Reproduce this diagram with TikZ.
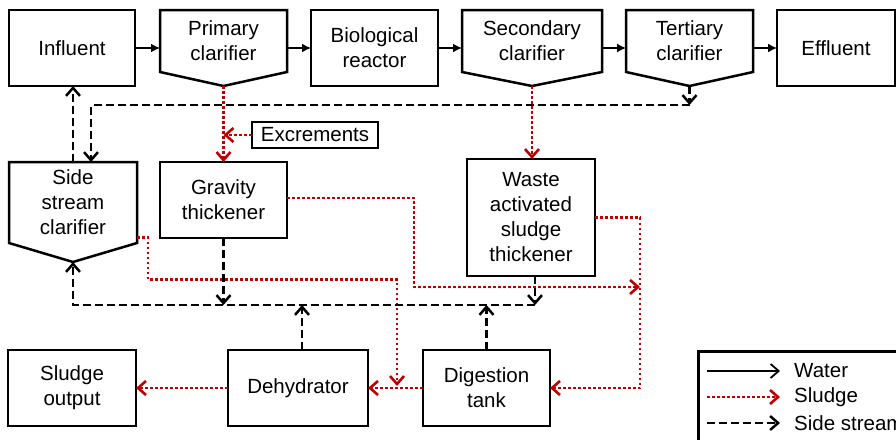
\documentclass[tikz,border=0pt]{standalone}
\usepackage{fontspec}
\setmainfont{Liberation Sans}
\usetikzlibrary{arrows.meta,positioning}
\definecolor{sludgered}{RGB}{192,0,0}

\begin{document}
\begin{tikzpicture}[x=1pt,y=-1pt]

\tikzset{
	unit/.style={
		draw=black,
		rectangle,
		line width=2.5pt,
		align=center,
		inner sep=2pt,
		outer sep=0pt,
		font=\fontsize{20.5}{25}\selectfont},
	clar/.style={
		unit,
		draw=none},
	water/.style={
		line width=1.6pt,
		-{Latex[length=9pt,width=9pt]}},
	sludge/.style={
		draw=sludgered,
		line width=2.6pt,
		dash pattern=on 2.6pt off 2.4pt,
		-{Straight Barb[length=8pt,width=14pt]}},
	side/.style={
		line width=2.5pt,
		dash pattern=on 8pt off 4pt,
		-{Straight Barb[length=8pt,width=14pt]}},
	legtext/.style={
		anchor=west,
		inner sep=2pt,
		font=\fontsize{20.5}{25}\selectfont}
}

\clip (0,0) rectangle (896,439);

% main water line
\node[unit,minimum width=126pt,minimum height=76pt] (inf) at (72,48) {Influent};
\node[clar,minimum width=127pt,minimum height=62pt,right=25pt of inf.north east,anchor=north west] (pc) {Primary\\clarifier};
\node[unit,minimum width=127pt,minimum height=76pt,right=24pt of pc.north east,anchor=north west] (bio) {Biological\\reactor};
\node[clar,minimum width=140pt,minimum height=62pt,right=24pt of bio.north east,anchor=north west] (sc) {Secondary\\clarifier};
\node[clar,minimum width=127pt,minimum height=62pt,right=24pt of sc.north east,anchor=north west] (tc) {Tertiary\\clarifier};
\node[unit,minimum width=118pt,minimum height=76pt,right=24pt of tc.north east,anchor=north west] (eff) {Effluent};

% sludge handling
\node[clar,minimum width=128pt,minimum height=81pt] (ssc) at (73,202.5) {Side\\stream\\clarifier};
\node[unit,minimum width=127pt,minimum height=76pt] (gt) at (223.5,200) {Gravity\\thickener};
\node[unit,minimum width=126pt,minimum height=26pt,inner sep=1pt] (exc) at (315,135) {Excrements};
\node[unit,minimum width=128pt,minimum height=117pt] (was) at (531,217.5) {Waste\\activated\\sludge\\thickener};

\node[unit,minimum width=128pt,minimum height=76pt] (out) at (72,388) {Sludge\\output};
\node[unit,minimum width=140pt,minimum height=76pt] (dehy) at (298,388) {Dehydrator};
\node[unit,minimum width=127pt,minimum height=76pt] (dig) at (486.5,388) {Digestion\\tank};

% clarifier outlines
\foreach \n/\d in {pc/14pt,sc/14pt,tc/14pt,ssc/19pt}{
	\draw[line width=2.5pt] (\n.north west) -- (\n.north east) -- (\n.south east)
		-- ([yshift=-\d]\n.south) -- (\n.south west) -- cycle;
	\coordinate (\n-tip) at ([yshift=-\d]\n.south);
}

\coordinate (ret) at (0,105);
\coordinate (bus) at (0,305);
\coordinate (mrg) at (640,287);
\coordinate (jn) at (397,386);

% water
\draw[water] (inf.east) -- (inf.east -| pc.west);
\draw[water] (bio.west -| pc.east) -- (bio.west);
\draw[water] (bio.east) -- (bio.east -| sc.west);
\draw[water] (bio.east -| sc.east) -- (bio.east -| tc.west);
\draw[water] (eff.west -| tc.east) -- (eff.west);

% sludge
\draw[sludge] (pc-tip) -- (gt.north);
\draw[sludge] (exc.west) -- (exc.west -| pc-tip);
\draw[sludge] (sc-tip) -- (sc-tip |- was.north);
\draw[sludge] ([yshift=2pt]gt.east) -- ++(127,0) |- (mrg);
\draw[sludge] (was.east) -| (mrg |- dig.east) -- (dig.east);
\draw[sludge] ([yshift=-35pt]ssc.east) -- ++(11,0) -- ++(0,42) -| (jn);
\draw[sludge] (dig.west) -- (dehy.east);
\draw[sludge] (dehy.west) -- (out.east);

% side streams
\draw[side] (tc-tip) -- (tc-tip |- ret);
\draw[side] (tc-tip |- ret) -| ([xshift=18pt]ssc.north);
\draw[side] (ssc.north) -- (ssc.north |- inf.south);
\draw[side] (gt.south) -- (gt.south |- bus);
\draw[side] ([xshift=4pt]was.south) -- ([xshift=4pt]was.south |- bus);
\draw[side] ([xshift=4pt]was.south |- bus) -| (ssc-tip);
\draw[side] ([xshift=4pt]dehy.north) -- ([xshift=4pt]dehy.north |- bus);
\draw[side] (dig.north) -- (dig.north |- bus);

% legend
\node[draw,line width=2.5pt,minimum width=230pt,minimum height=110pt,anchor=north west] (leg) at (697,350) {};
\node[legtext] (lwater) at (792,371) {Water};
\node[legtext] (lsludge) at (792,397) {Sludge};
\node[legtext] (lside) at (792,423) {Side stream};
\draw[line width=1.8pt,-{Straight Barb[length=8pt,width=14pt]}] ([xshift=-85pt]lwater.west) -- ([xshift=-12pt]lwater.west);
\draw[sludge] ([xshift=-85pt]lsludge.west) -- ([xshift=-12pt]lsludge.west);
\draw[side] ([xshift=-85pt]lside.west) -- ([xshift=-12pt]lside.west);

\end{tikzpicture}
\end{document}
